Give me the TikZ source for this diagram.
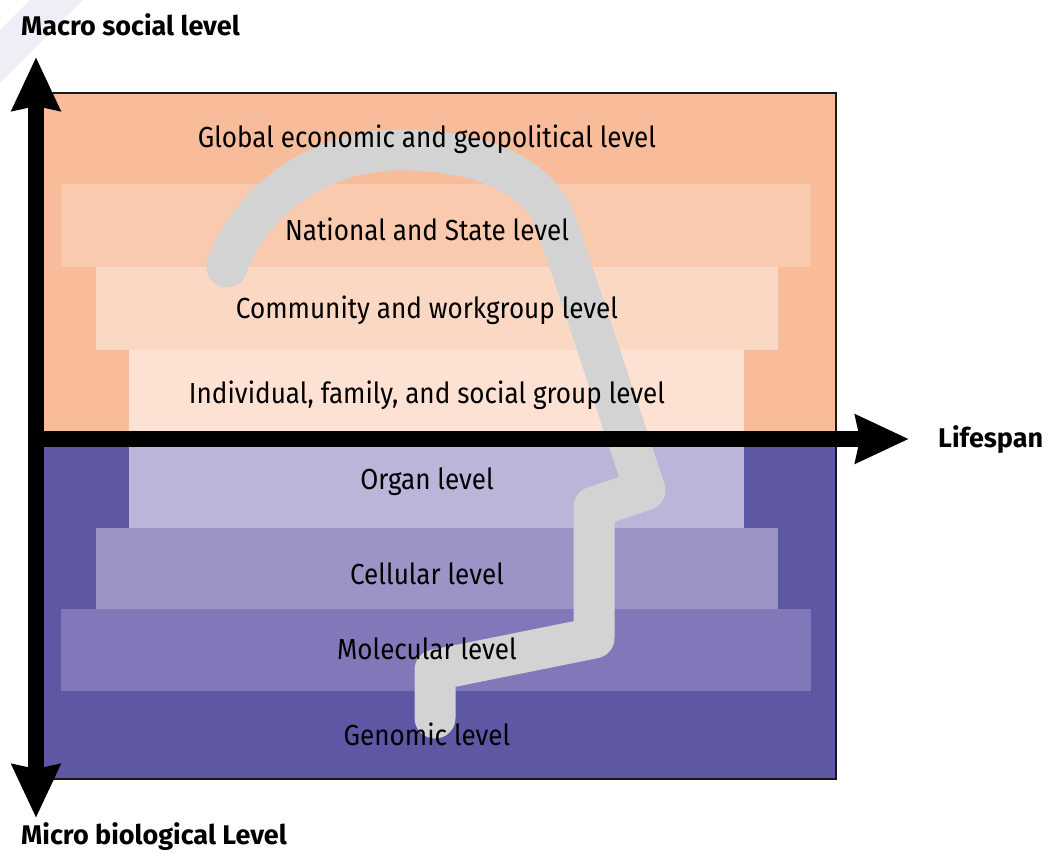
\documentclass[tikz,border=0pt]{standalone}
\usepackage{fontspec}
\setmainfont{Fira Sans}[FakeStretch=0.9]
\newfontfamily\axisfont{Fira Sans}
\usepackage{tikz}
\usetikzlibrary{arrows.meta}

\definecolor{macrobg}{HTML}{F9BC9A}
\definecolor{national}{HTML}{FACAAE}
\definecolor{community}{HTML}{FBD8C3}
\definecolor{individual}{HTML}{FDE2D4}
\definecolor{organ}{HTML}{BBB5DA}
\definecolor{cellular}{HTML}{9C94C7}
\definecolor{molecular}{HTML}{8178B9}
\definecolor{microbg}{HTML}{5E57A4}
\definecolor{lifepath}{HTML}{D3D3D3}
\definecolor{wmark}{HTML}{EEEEF6}

\begin{document}
\begin{tikzpicture}[x=1pt,y=-1pt,
		axistip/.tip={Stealth[length=53pt,width=47pt,inset=4pt]},
		axis/.style={line width=16pt,-axistip},
		levellabel/.style={anchor=base,inner sep=0pt,font=\fontsize{29}{30}\selectfont},
		axislabel/.style={anchor=base west,inner sep=0pt,font=\axisfont\fontsize{27}{28}\selectfont\bfseries}]
		\useasboundingbox (0,0) rectangle (1055,862);
		
		\fill[wmark] (30,0) -- (83,0) -- (0,83) -- (0,30) -- cycle;
		
		\fill[macrobg] (44,93) rectangle (836,439);
		\fill[microbg] (44,439) rectangle (836,779);
		\fill[national] (61,184) rectangle (811,267);
		\fill[community] (96,267) rectangle (778,350);
		\fill[individual] (129,350) rectangle (744,431);
		\fill[organ] (129,447) rectangle (744,528);
		\fill[cellular] (96,528) rectangle (778,609);
		\fill[molecular] (61,609) rectangle (811,691);
		\draw[line width=2pt,black!90] (44,93) -- (836,93) -- (836,779) -- (44,779);
		
		\draw[lifepath,line width=41pt,line cap=round,line join=round] (227,267) .. controls (250,200) and (320,150) .. (400,150) .. controls (480,150) and (540,175) .. (557,225) -- (645,490) -- (594,507) -- (594,638) -- (435,670) -- (435,718);
		
		\coordinate (macro) at (36,57);
		\coordinate (micro) at (36,818);
		\coordinate (origin) at (28,439);
		\coordinate (life) at (909,439);
		\draw[axis] (origin) -- (life);
		\draw[line width=16pt,axistip-axistip] (macro) -- (micro);
		
		\node[levellabel] (global) at (427,147) {Global economic and geopolitical level};
		\node[levellabel] (nation) at (427,240) {National and State level};
		\node[levellabel] (community) at (427,318) {Community and workgroup level};
		\node[levellabel] (individual) at (427,403) {Individual, family, and social group level};
		\node[levellabel] (organ) at (427,489) {Organ level};
		\node[levellabel] (cellular) at (427,584) {Cellular level};
		\node[levellabel] (molecular) at (427,659) {Molecular level};
		\node[levellabel] (genomic) at (427,745) {Genomic level};
		
		\node[axislabel] (macrolabel) at (21,35) {Macro social level};
		\node[axislabel] (lifelabel) at (938,447) {Lifespan};
		\node[axislabel] (microlabel) at (21,844) {Micro biological Level};
\end{tikzpicture}
\end{document}
